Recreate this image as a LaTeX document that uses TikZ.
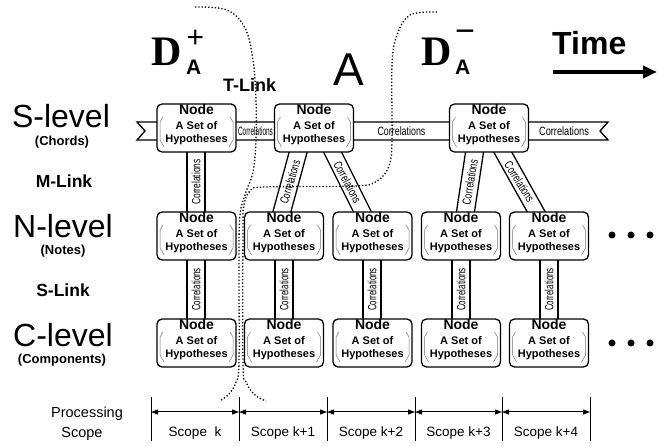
\documentclass[tikz,border=0pt]{standalone}
\usepackage{fontspec}
\setmainfont{Liberation Sans}
\newfontfamily\dfont{Liberation Serif}
\usepackage{graphicx}
\usetikzlibrary{calc,arrows.meta}
\newcommand\fs[1]{\fontsize{#1}{#1}\selectfont}
\tikzset{
 hyp/.style={draw, fill=white, rounded corners=5pt, line width=1.3pt, minimum width=79pt, minimum height=48pt, inner sep=0pt, outer sep=0pt},
 ntitle/.style={anchor=base, inner sep=0pt, font=\bfseries\fs{14}},
 nsub/.style={anchor=base, inner sep=0pt, font=\bfseries\fs{11}},
 fold/.style={draw=black!55, line width=0.5pt},
 band/.style={draw, fill=white, line width=1.3pt},
 corr/.style={inner sep=0pt, font=\fs{12}},
 lvl/.style={anchor=base, inner sep=0pt, font=\fs{32}},
 lvlsub/.style={anchor=base, inner sep=0pt, font=\bfseries\fs{13}},
 lnk/.style={anchor=base, inner sep=0pt, font=\bfseries\fs{17.5}},
 bnd/.style={dotted, line width=1.3pt},
 dotn/.style={circle, fill, inner sep=0pt, minimum size=7pt},
 scar/.style={{Triangle[length=7pt,width=5pt]}-{Triangle[length=7pt,width=5pt]}, line width=1pt},
 scl/.style={anchor=base, inner sep=0pt, font=\fs{13.5}},
 txt/.style={inner sep=0pt}
}
\newcommand\hypnode[3]{%
 \node[hyp] (#1) at (#2,#3) {};
 \node[ntitle] (#1-a) at ($(#1.north)+(0,11)$) {Node};
 \node[nsub] (#1-b) at ($(#1.north)+(0,26)$) {A Set of};
 \node[nsub] (#1-c) at ($(#1.north)+(0,39)$) {Hypotheses};
 \draw[fold] ($(#1.north west)+(6,13)$) -- ++(-3,5) -- ($(#1.south west)+(3,-12)$) -- ++(4,7);
 \draw[fold] ($(#1.north east)+(-6,13)$) -- ++(3,5) -- ($(#1.south east)+(-3,-12)$) -- ++(-4,7);
}
% band between two centre points #1 (top) and #2 (bottom), label name #3, angle #4, xscale #5
\newcommand\corrband[5]{%
 \draw[band] ($(#1)+(-9,0)$) -- ($(#1)+(9,0)$) -- ($(#2)+(9,0)$) -- ($(#2)+(-9,0)$) -- cycle;
 \node[corr, rotate=#4] (#3) at ($(#1)!0.5!(#2)$) {\scalebox{#5}[1]{Correlations}};
}
\begin{document}
\begin{tikzpicture}[x=1pt,y=-1pt]
\useasboundingbox (0,0) rectangle (657,446);

% ---- ribbon at S-level
\draw[band] (137,122) -- (608,122) -- (600,131) -- (608,140) -- (137,140) -- (145,131) -- cycle;
\node[corr] (h1) at (255.5,131) {\scalebox{0.54}[1]{Correlations}};
\node[corr] (h2) at (401.5,131) {\scalebox{0.74}[1]{Correlations}};
\node[corr] (h3) at (564,131) {\scalebox{0.77}[1]{Correlations}};

% ---- band end points
\coordinate (s1b) at (196,149);
\coordinate (n1t) at (196,215);
\coordinate (s2l) at (299,149);
\coordinate (n2l) at (281,215);
\coordinate (s2r) at (331,149);
\coordinate (n3r) at (364,215);
\coordinate (s3l) at (475,149);
\coordinate (n4l) at (465,215);
\coordinate (s3r) at (501,149);
\coordinate (n5r) at (538,215);

\corrband{s1b}{n1t}{m1}{90}{0.7}
\corrband{s2l}{n2l}{m2}{73.3}{0.7}
\corrband{s2r}{n3r}{m3}{-61.9}{0.7}
\corrband{s3l}{n4l}{m4}{80.5}{0.7}
\corrband{s3r}{n5r}{m5}{-58.3}{0.7}

\foreach \x [count=\i] in {196,284,372,461,549} {
 \coordinate (v\i t) at (\x,257);
 \coordinate (v\i b) at (\x,322);
 \corrband{v\i t}{v\i b}{sl\i}{90}{0.66}
}

% ---- boxes
\hypnode{s1}{196.5}{128}
\hypnode{s2}{314}{128}
\hypnode{s3}{489}{128}
\foreach \x [count=\i] in {196.5,284,372.5,461,549} {
 \hypnode{n\i}{\x}{236}
 \hypnode{c\i}{\x}{343}
}

% ---- ellipsis dots
\node[dotn] (e1) at (612,235) {};
\node[dotn] (e2) at (631,235) {};
\node[dotn] (e3) at (650,235) {};
\node[dotn] (f1) at (612,343) {};
\node[dotn] (f2) at (631,343) {};
\node[dotn] (f3) at (650,343) {};

% ---- left labels
\node[lvl] (sl) at (61,128) {S-level};
\node[lvlsub] (slc) at (62,146) {(Chords)};
\node[lnk] (ml) at (64,188) {M-Link};
\node[lvl] (nl) at (63,238) {N-level};
\node[lvlsub] (nln) at (63,255) {(Notes)};
\node[lnk] (sk) at (63,297) {S-Link};
\node[lvl] (cl) at (63,347) {C-level};
\node[lvlsub] (clc) at (62,364) {(Components)};

% ---- top labels
\node[txt, anchor=base west] (dp) at (151,66) {\dfont\bfseries\fs{42}D};
\node[txt, anchor=base west] (dpa) at (186,75) {\bfseries\fs{21}A};
\node[txt, anchor=base] (dpp) at (195.5,48) {\fs{30}+};
\node[txt, anchor=base west] (tl) at (223,92) {\bfseries\fs{18}T-Link};
\node[txt, anchor=base] (aa) at (349,86) {\fs{46}A};
\node[txt, anchor=base west] (dm) at (421,66) {\dfont\bfseries\fs{42}D};
\node[txt, anchor=base west] (dma) at (455,75) {\bfseries\fs{21}A};
\node[txt, anchor=base] (dmm) at (465,43) {\fs{34}−};
\node[txt, anchor=base west] (tm) at (552,55) {\bfseries\fs{32}Time};
\coordinate (ta) at (553,72);
\coordinate (tb) at (657,72);
\draw[line width=4pt, -{Triangle[length=14pt,width=12pt]}] (ta) -- (tb);

% ---- processing scope
\node[txt, anchor=base] (ps1) at (87,418) {\fs{14.5}Processing};
\node[txt, anchor=base] (ps2) at (82,438) {\fs{14.5}Scope};
\foreach \x [count=\i from 0] in {151,239,327,415,502,590} {
 \coordinate (t\i) at (\x,412);
 \draw[line width=0.6pt] (\x,397) -- (\x,441);
}
\draw[scar] (t0) -- (t1);
\draw[scar] (t1) -- (t2);
\draw[scar] (t2) -- (t3);
\draw[scar] (t3) -- (t4);
\draw[scar] (t4) -- (t5);
\node[scl] (k0) at (195,437) {Scope\ \ k};
\node[scl] (k1) at (283,437) {Scope k+1};
\node[scl] (k2) at (371,437) {Scope k+2};
\node[scl] (k3) at (458.5,437) {Scope k+3};
\node[scl] (k4) at (546,437) {Scope k+4};

% ---- dotted boundaries
\draw[bnd] plot[smooth, tension=0.6] coordinates {(195,7) (227,10) (245,28) (253,60) (256,100) (256,140) (253,172) (246,192) (240,215) (239,260) (239,362) (236,382) (229,394) (220,401)};
\draw[bnd] plot[smooth, tension=0.6] coordinates {(437,12) (410,15) (397,35) (392,65) (392,140) (389,166) (377,181) (355,186) (265,187) (250,191) (244,205) (243,230) (243,362) (246,382) (255,395) (266,401)};
\end{tikzpicture}
\end{document}
